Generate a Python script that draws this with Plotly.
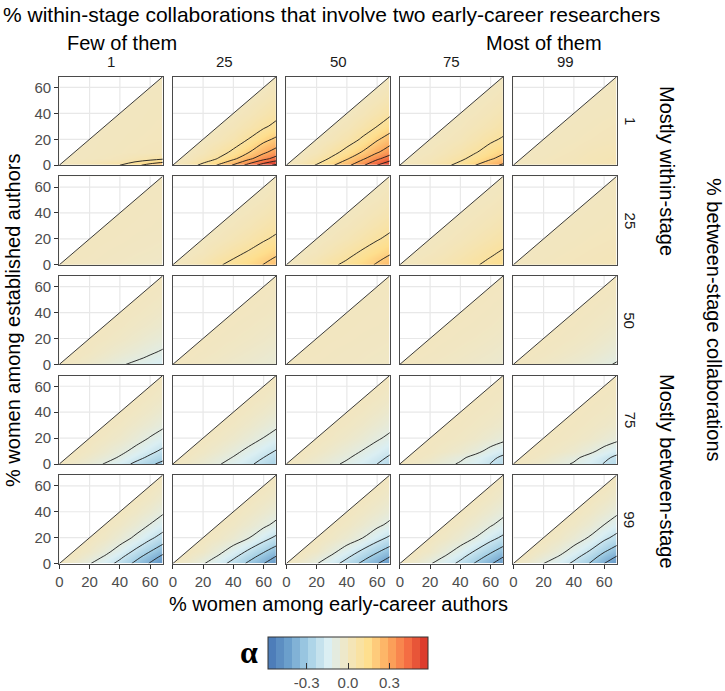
import plotly.graph_objects as go

# ---------------- data ----------------
X_GRID = [0, 10, 20, 30, 40, 50, 60, 70]          # % women among early-career authors
Y_GRID = [0, 5, 10, 20, 30, 40, 50, 60, 70]       # % women among established authors
WITHIN_EARLY = ["1", "25", "50", "75", "99"]      # column facets
BETWEEN = ["1", "25", "50", "75", "99"]           # row facets
CB_TICKS = [-0.3, 0.0, 0.3]
CB_TEXT = ["-0.3", "0.0", "0.3"]
ALPHA_MIN, ALPHA_MAX = -0.58, 0.58

# alpha per panel; row k holds values at y = Y_GRID[k] for every x in X_GRID with x > y
A_b01_w01 = [[0.02, 0.04, 0.07, 0.10, 0.17, 0.24, 0.30],
             [0.0, 0.002, 0.007, 0.015, 0.034, 0.06, 0.09],
             [0.001, 0.003, 0.006, 0.01, 0.015, 0.02],
             [0.002, 0.004, 0.006, 0.008, 0.01],
             [0.003, 0.004, 0.006, 0.008],
             [0.003, 0.005, 0.006],
             [0.004, 0.005],
             [0.004]]
A_b01_w25 = [[0.055, 0.125, 0.21, 0.31, 0.435, 0.55, 0.64],
             [0.009, 0.048, 0.105, 0.18, 0.275, 0.37, 0.45],
             [0.019, 0.062, 0.118, 0.195, 0.28, 0.36],
             [0.017, 0.048, 0.102, 0.171, 0.227],
             [0.017, 0.046, 0.085, 0.134],
             [0.017, 0.044, 0.077],
             [0.018, 0.042],
             [0.018]]
A_b01_w50 = [[0.05, 0.107, 0.185, 0.272, 0.378, 0.50, 0.60],
             [0.010, 0.052, 0.115, 0.19, 0.28, 0.38, 0.47],
             [0.021, 0.069, 0.13, 0.205, 0.29, 0.37],
             [0.019, 0.054, 0.11, 0.188, 0.258],
             [0.019, 0.053, 0.10, 0.159],
             [0.019, 0.05, 0.093],
             [0.02, 0.048],
             [0.02]]
A_b01_w75 = [[0.02, 0.045, 0.08, 0.13, 0.20, 0.265, 0.33],
             [0.003, 0.018, 0.043, 0.081, 0.135, 0.189, 0.245],
             [0.007, 0.025, 0.052, 0.094, 0.142, 0.195],
             [0.006, 0.02, 0.047, 0.082, 0.117],
             [0.007, 0.021, 0.041, 0.069],
             [0.008, 0.021, 0.04],
             [0.009, 0.021],
             [0.009]]
A_b01_w99 = [[0.005, 0.01, 0.015, 0.02, 0.03, 0.035, 0.04],
             [0.001, 0.006, 0.011, 0.016, 0.025, 0.03, 0.035],
             [0.002, 0.007, 0.012, 0.02, 0.025, 0.03],
             [0.002, 0.005, 0.01, 0.014, 0.017],
             [0.002, 0.005, 0.009, 0.012],
             [0.002, 0.004, 0.007],
             [0.002, 0.004],
             [0.002]]

A_b25_w01 = [[-0.002, -0.004, -0.006, -0.009, -0.012, -0.016, -0.022],
             [-0.001, -0.002, -0.004, -0.007, -0.01, -0.013, -0.018],
             [-0.001, -0.003, -0.005, -0.008, -0.01, -0.014],
             [-0.001, -0.002, -0.004, -0.006, -0.008],
             [-0.001, -0.002, -0.003, -0.005],
             [-0.001, -0.002, -0.003],
             [-0.001, -0.002],
             [-0.001]]
A_b25_w25 = [[0.02, 0.045, 0.09, 0.125, 0.16, 0.203, 0.245],
             [0.005, 0.026, 0.064, 0.098, 0.133, 0.175, 0.216],
             [0.011, 0.04, 0.073, 0.105, 0.144, 0.184],
             [0.011, 0.031, 0.056, 0.089, 0.123],
             [0.011, 0.027, 0.051, 0.078],
             [0.01, 0.025, 0.047],
             [0.009, 0.025],
             [0.01]]
A_b25_w50 = [[0.02, 0.045, 0.085, 0.12, 0.165, 0.21, 0.255],
             [0.005, 0.026, 0.06, 0.094, 0.137, 0.181, 0.224],
             [0.011, 0.037, 0.07, 0.108, 0.149, 0.191],
             [0.011, 0.03, 0.058, 0.092, 0.128],
             [0.01, 0.028, 0.053, 0.082],
             [0.01, 0.026, 0.048],
             [0.009, 0.026],
             [0.01]]
A_b25_w75 = [[0.01, 0.025, 0.04, 0.065, 0.093, 0.12, 0.15],
             [0.003, 0.015, 0.028, 0.051, 0.077, 0.103, 0.132],
             [0.006, 0.018, 0.038, 0.061, 0.085, 0.113],
             [0.005, 0.016, 0.033, 0.053, 0.075],
             [0.006, 0.016, 0.03, 0.048],
             [0.006, 0.015, 0.029],
             [0.005, 0.015],
             [0.006]]
A_b25_w99 = [[0.003, 0.006, 0.009, 0.012, 0.016, 0.02, 0.025],
             [0.001, 0.004, 0.007, 0.01, 0.013, 0.017, 0.021],
             [0.002, 0.005, 0.008, 0.011, 0.014, 0.018],
             [0.002, 0.004, 0.007, 0.009, 0.012],
             [0.002, 0.004, 0.006, 0.009],
             [0.002, 0.004, 0.006],
             [0.002, 0.004],
             [0.002]]

A_b50_w01 = [[-0.015, -0.035, -0.06, -0.09, -0.115, -0.14, -0.165],
             [-0.003, -0.017, -0.037, -0.063, -0.086, -0.111, -0.134],
             [-0.007, -0.023, -0.044, -0.064, -0.087, -0.111],
             [-0.006, -0.018, -0.033, -0.053, -0.071],
             [-0.006, -0.016, -0.028, -0.044],
             [-0.006, -0.014, -0.026],
             [-0.006, -0.013],
             [-0.006]]
A_b50_w25 = [[-0.005, -0.012, -0.02, -0.03, -0.04, -0.05, -0.065],
             [-0.001, -0.007, -0.014, -0.024, -0.033, -0.043, -0.057],
             [-0.003, -0.009, -0.017, -0.026, -0.036, -0.049],
             [-0.003, -0.008, -0.014, -0.022, -0.033],
             [-0.003, -0.007, -0.013, -0.021],
             [-0.002, -0.006, -0.012],
             [-0.002, -0.007],
             [-0.003]]
A_b50_w50 = [[-0.002, -0.004, -0.006, -0.008, -0.01, -0.013, -0.016],
             [-0.001, -0.002, -0.004, -0.006, -0.008, -0.011, -0.014],
             [-0.001, -0.003, -0.005, -0.007, -0.009, -0.012],
             [-0.001, -0.002, -0.004, -0.006, -0.008],
             [-0.001, -0.002, -0.003, -0.005],
             [-0.001, -0.002, -0.003],
             [-0.001, -0.002],
             [-0.001]]
A_b50_w75 = [[-0.004, -0.008, -0.013, -0.019, -0.026, -0.034, -0.045],
             [-0.001, -0.005, -0.009, -0.015, -0.022, -0.029, -0.04],
             [-0.002, -0.006, -0.011, -0.017, -0.024, -0.034],
             [-0.002, -0.005, -0.009, -0.015, -0.022],
             [-0.002, -0.004, -0.008, -0.014],
             [-0.002, -0.004, -0.009],
             [-0.002, -0.004],
             [-0.002]]
A_b50_w99 = [[-0.008, -0.018, -0.03, -0.045, -0.062, -0.085, -0.113],
             [-0.002, -0.009, -0.019, -0.032, -0.047, -0.067, -0.092],
             [-0.004, -0.011, -0.022, -0.035, -0.053, -0.076],
             [-0.003, -0.009, -0.018, -0.032, -0.049],
             [-0.003, -0.009, -0.017, -0.03],
             [-0.003, -0.009, -0.018],
             [-0.003, -0.009],
             [-0.004]]

A_b75_w01 = [[-0.031, -0.065, -0.105, -0.156, -0.218, -0.279, -0.34],
             [-0.006, -0.032, -0.065, -0.109, -0.164, -0.22, -0.275],
             [-0.013, -0.039, -0.076, -0.122, -0.173, -0.228],
             [-0.011, -0.031, -0.063, -0.105, -0.146],
             [-0.011, -0.031, -0.056, -0.09],
             [-0.011, -0.028, -0.053],
             [-0.011, -0.027],
             [-0.012]]
A_b75_w25 = [[-0.025, -0.055, -0.092, -0.133, -0.182, -0.232, -0.285],
             [-0.006, -0.032, -0.065, -0.104, -0.151, -0.2, -0.251],
             [-0.014, -0.04, -0.077, -0.119, -0.165, -0.214],
             [-0.012, -0.033, -0.064, -0.102, -0.143],
             [-0.011, -0.031, -0.058, -0.091],
             [-0.011, -0.029, -0.054],
             [-0.01, -0.029],
             [-0.011]]
A_b75_w50 = [[-0.022, -0.05, -0.082, -0.115, -0.155, -0.2, -0.25],
             [-0.006, -0.029, -0.058, -0.09, -0.129, -0.172, -0.22],
             [-0.013, -0.036, -0.067, -0.102, -0.142, -0.188],
             [-0.01, -0.029, -0.054, -0.088, -0.125],
             [-0.01, -0.026, -0.05, -0.08],
             [-0.009, -0.025, -0.048],
             [-0.009, -0.025],
             [-0.01]]
A_b75_w75 = [[-0.02, -0.045, -0.078, -0.11, -0.15, -0.203, -0.25],
             [-0.002, -0.017, -0.048, -0.084, -0.126, -0.179, -0.225],
             [-0.005, -0.019, -0.041, -0.075, -0.126, -0.175],
             [-0.004, -0.012, -0.026, -0.049, -0.078],
             [-0.004, -0.011, -0.022, -0.038],
             [-0.005, -0.01, -0.02],
             [-0.005, -0.01],
             [-0.005]]
A_b75_w99 = [[-0.02, -0.045, -0.077, -0.108, -0.152, -0.205, -0.25],
             [-0.002, -0.017, -0.047, -0.082, -0.127, -0.18, -0.226],
             [-0.005, -0.019, -0.04, -0.076, -0.127, -0.176],
             [-0.004, -0.012, -0.026, -0.049, -0.079],
             [-0.004, -0.011, -0.022, -0.038],
             [-0.005, -0.01, -0.02],
             [-0.005, -0.01],
             [-0.005]]

A_b99_w01 = [[-0.045, -0.095, -0.155, -0.23, -0.32, -0.41, -0.50],
             [-0.011, -0.055, -0.11, -0.181, -0.266, -0.353, -0.44],
             [-0.024, -0.068, -0.133, -0.21, -0.291, -0.375],
             [-0.019, -0.058, -0.112, -0.18, -0.25],
             [-0.02, -0.054, -0.103, -0.16],
             [-0.019, -0.051, -0.095],
             [-0.018, -0.05],
             [-0.02]]
A_b99_w25 = [[-0.045, -0.093, -0.157, -0.235, -0.318, -0.398, -0.48],
             [-0.011, -0.054, -0.111, -0.184, -0.264, -0.342, -0.422],
             [-0.019, -0.069, -0.136, -0.208, -0.283, -0.36],
             [-0.016, -0.047, -0.095, -0.163, -0.23],
             [-0.015, -0.043, -0.08, -0.13],
             [-0.016, -0.04, -0.072],
             [-0.016, -0.038],
             [-0.017]]
A_b99_w50 = [[-0.046, -0.095, -0.162, -0.238, -0.318, -0.395, -0.47],
             [-0.012, -0.055, -0.115, -0.187, -0.264, -0.34, -0.414],
             [-0.019, -0.071, -0.138, -0.208, -0.28, -0.353],
             [-0.016, -0.048, -0.095, -0.162, -0.226],
             [-0.015, -0.043, -0.079, -0.127],
             [-0.016, -0.04, -0.071],
             [-0.016, -0.038],
             [-0.016]]
A_b99_w75 = [[-0.045, -0.093, -0.152, -0.225, -0.31, -0.39, -0.47],
             [-0.011, -0.054, -0.108, -0.177, -0.257, -0.335, -0.414],
             [-0.021, -0.067, -0.13, -0.203, -0.277, -0.353],
             [-0.017, -0.05, -0.102, -0.168, -0.23],
             [-0.017, -0.048, -0.09, -0.143],
             [-0.017, -0.045, -0.083],
             [-0.016, -0.042],
             [-0.017]]
A_b99_w99 = [[-0.047, -0.1, -0.15, -0.22, -0.3, -0.4, -0.48],
             [-0.012, -0.058, -0.107, -0.173, -0.249, -0.344, -0.422],
             [-0.025, -0.066, -0.128, -0.197, -0.284, -0.36],
             [-0.019, -0.055, -0.105, -0.176, -0.24],
             [-0.019, -0.051, -0.1, -0.154],
             [-0.018, -0.05, -0.091],
             [-0.018, -0.048],
             [-0.019]]

PANELS = [
    [A_b01_w01, A_b01_w25, A_b01_w50, A_b01_w75, A_b01_w99],
    [A_b25_w01, A_b25_w25, A_b25_w50, A_b25_w75, A_b25_w99],
    [A_b50_w01, A_b50_w25, A_b50_w50, A_b50_w75, A_b50_w99],
    [A_b75_w01, A_b75_w25, A_b75_w50, A_b75_w75, A_b75_w99],
    [A_b99_w01, A_b99_w25, A_b99_w50, A_b99_w75, A_b99_w99],
]

# ---------------- style ----------------
FONT = "Liberation Sans, Arial, Helvetica, sans-serif"
W, H = 725, 691
ML, MR, MT, MB = 59, 108, 76, 127
PW, PH = W - ML - MR, H - MT - MB
AX_MAX = 68.3

SCALE_STOPS = [(0.0, "#4575b4"), (0.125, "#6b9fcc"), (0.25, "#a3cfe5"),
               (0.375, "#dbeff3"), (0.5, "#f2e6c0"), (0.625, "#fedf8e"),
               (0.75, "#fdac5f"), (0.875, "#f46d43"), (1.0, "#d73027")]
COLORSCALE = [[p, c] for p, c in SCALE_STOPS]


def _rgb(h):
    h = h.lstrip("#")
    return [int(h[i:i + 2], 16) for i in (0, 2, 4)]


def color_at(t):
    for (p0, c0), (p1, c1) in zip(SCALE_STOPS[:-1], SCALE_STOPS[1:]):
        if p0 <= t <= p1:
            f = (t - p0) / (p1 - p0)
            a, b = _rgb(c0), _rgb(c1)
            return "rgb(%d,%d,%d)" % tuple(round(a[i] + (b[i] - a[i]) * f) for i in range(3))
    return SCALE_STOPS[-1][1]


NBIN = 20
STEP_SCALE = []
for i in range(NBIN):
    c = color_at((i + 0.5) / NBIN)
    STEP_SCALE += [[i / NBIN, c], [(i + 1) / NBIN, c]]


def fx(px):
    return (px - ML) / PW


def fy(py):
    return (H - MB - py) / PH


def build_z(rows):
    z = []
    for k, y in enumerate(Y_GRID):
        valid = [x for x in X_GRID if x > y]
        vals = list(rows[k]) if k < len(rows) else []
        z.append([0.0] * (len(X_GRID) - len(valid)) + vals)
    return z


fig = go.Figure()
layout_axes = {}
COL_LEFT = [59.3 + 113.5 * c for c in range(5)]
ROW_TOP = [76.7 + 99.6 * r for r in range(5)]
PANEL_W, PANEL_H = 103.4, 88.5

for r in range(5):
    for c in range(5):
        p = r * 5 + c
        sfx = "" if p == 0 else str(p + 1)
        xa, ya = "x" + sfx, "y" + sfx
        z = build_z(PANELS[r][c])
        fig.add_trace(go.Heatmap(x=X_GRID, y=Y_GRID, z=z, colorscale=COLORSCALE,
                                 zmin=ALPHA_MIN, zmax=ALPHA_MAX, zsmooth="best",
                                 showscale=False, hoverinfo="skip", xaxis=xa, yaxis=ya))
        for start, end in ((0.1, 0.65), (-0.6, -0.05)):
            fig.add_trace(go.Contour(x=X_GRID, y=Y_GRID, z=z, showscale=False,
                                     contours=dict(start=start, end=end, size=0.1, coloring="none"),
                                     line=dict(color="#1a1a1a", width=0.9, smoothing=1),
                                     hoverinfo="skip", xaxis=xa, yaxis=ya))
        # white area above the diagonal
        fig.add_trace(go.Scatter(x=[-5, AX_MAX + 5, -5, -5], y=[-5, AX_MAX + 5, AX_MAX + 5, -5],
                                 mode="lines", fill="toself", fillcolor="white",
                                 line=dict(width=0, color="white"), hoverinfo="skip",
                                 showlegend=False, xaxis=xa, yaxis=ya))
        gx, gy = [], []
        for g in (20, 40, 60):
            gx += [g, g, None, 0, g, None]
            gy += [g, AX_MAX, None, g, g, None]
        fig.add_trace(go.Scatter(x=gx, y=gy, mode="lines", line=dict(color="#e8e8e8", width=1.2),
                                 hoverinfo="skip", showlegend=False, xaxis=xa, yaxis=ya))
        fig.add_trace(go.Scatter(x=[0, AX_MAX], y=[0, AX_MAX], mode="lines",
                                 line=dict(color="#262626", width=0.9),
                                 hoverinfo="skip", showlegend=False, xaxis=xa, yaxis=ya))

        x0 = fx(COL_LEFT[c]); x1 = fx(COL_LEFT[c] + PANEL_W)
        y1 = fy(ROW_TOP[r]); y0 = fy(ROW_TOP[r] + PANEL_H)
        common = dict(range=[0, AX_MAX], showgrid=False, zeroline=False, showline=True,
                      mirror=True, linecolor="#4a4a4a", linewidth=1.2,
                      tickvals=[0, 20, 40, 60], ticklen=4, tickwidth=1, tickcolor="#333333",
                      tickfont=dict(family=FONT, size=15, color="#4d4d4d"), fixedrange=True)
        layout_axes["xaxis" + sfx] = dict(common, domain=[x0, x1], anchor=ya,
                                          ticks="outside" if r == 4 else "",
                                          showticklabels=(r == 4))
        layout_axes["yaxis" + sfx] = dict(common, domain=[y0, y1], anchor=xa,
                                          ticks="outside" if c == 0 else "",
                                          showticklabels=(c == 0))

# colour bar (stepped, like the reference legend)
CB_CX, CB_TOP, CB_LEN, CB_THICK = 348, 637, 160, 32
fig.add_trace(go.Scatter(x=[-50, -50], y=[-50, -50], mode="markers", hoverinfo="skip",
                         showlegend=False,
                         marker=dict(color=[ALPHA_MIN, ALPHA_MAX], colorscale=STEP_SCALE,
                                     cmin=ALPHA_MIN, cmax=ALPHA_MAX, showscale=True,
                                     colorbar=dict(orientation="h", x=fx(CB_CX), xanchor="center",
                                                   y=fy(CB_TOP), yanchor="top",
                                                   len=CB_LEN, lenmode="pixels",
                                                   thickness=CB_THICK, thicknessmode="pixels",
                                                   xpad=0, ypad=0, outlinecolor="#333333",
                                                   outlinewidth=1, tickmode="array",
                                                   tickvals=CB_TICKS, ticktext=CB_TEXT,
                                                   ticks="inside", ticklen=6, tickwidth=1,
                                                   tickcolor="#333333",
                                                   tickfont=dict(family=FONT, size=15, color="#4d4d4d"))),
                         xaxis="x", yaxis="y"))

shapes = []
for v in CB_TICKS:
    px = CB_CX + v / ALPHA_MAX * (CB_LEN / 2)
    shapes.append(dict(type="line", xref="paper", yref="paper", x0=fx(px), x1=fx(px),
                       y0=fy(CB_TOP), y1=fy(CB_TOP + 6), line=dict(color="#333333", width=1)))

ann = []


def add_text(text, px, py, size, color="#000000", xanchor="center", angle=0, family=FONT):
    ann.append(dict(text=text, x=fx(px), y=fy(py), xref="paper", yref="paper",
                    showarrow=False, xanchor=xanchor, yanchor="middle", textangle=angle,
                    font=dict(family=family, size=size, color=color)))


add_text("% within-stage collaborations that involve two early-career researchers", 1, 14, 21,
         xanchor="left")
add_text("Few of them", 65, 43, 20, xanchor="left")
add_text("Most of them", 604, 43, 20, xanchor="right")
for c in range(5):
    add_text(WITHIN_EARLY[c], COL_LEFT[c] + PANEL_W / 2, 62, 15, color="#1a1a1a")
for r in range(5):
    add_text(BETWEEN[r], 630, ROW_TOP[r] + PANEL_H / 2, 15, color="#1a1a1a", angle=90)
add_text("Mostly within-stage", 667, 171, 20, angle=90)
add_text("Mostly between-stage", 667, 471, 20, angle=90)
add_text("% between-stage collaborations", 714, 320, 20, angle=90)
add_text("% women among established authors", 13, 320, 20, angle=-90)
add_text("% women among early-career authors", 338, 604, 20)
add_text("<b>α</b>", 249, 652, 32, family="Liberation Serif, DejaVu Serif, serif")

fig.update_layout(width=W, height=H, margin=dict(l=ML, r=MR, t=MT, b=MB, autoexpand=False),
                  paper_bgcolor="white", plot_bgcolor="white", showlegend=False,
                  annotations=ann, shapes=shapes, **layout_axes)

fig.write_html("out.html", config={"displayModeBar": False},
               post_script="document.body.style.margin='0';document.body.style.padding='0';")
